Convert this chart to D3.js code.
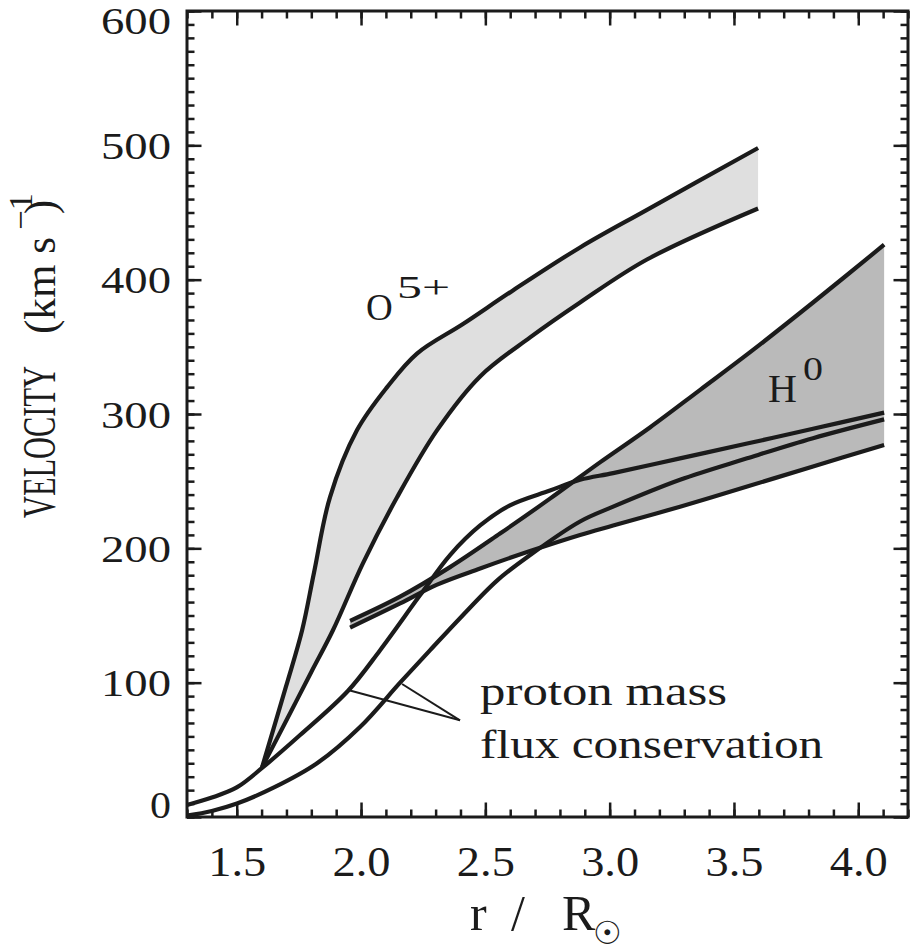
<!DOCTYPE html>
<html>
<head>
<meta charset="utf-8">
<script src="https://cdn.jsdelivr.net/npm/d3@7"></script>
<style>body{margin:0;background:#fff}svg{display:block}</style>
</head>
<body>
<svg id="c" width="910" height="952"></svg>
<script>
// ---------------- data (r / R_sun , velocity km/s) ----------------
const xTicks = [1.5, 2.0, 2.5, 3.0, 3.5, 4.0];
const xTickLabels = ["1.5", "2.0", "2.5", "3.0", "3.5", "4.0"];
const yTicks = [0, 100, 200, 300, 400, 500, 600];
const yTickLabels = ["0", "100", "200", "300", "400", "500", "600"];

const o5UpperR = [1.602, 1.698, 1.763, 1.811, 1.875, 1.984, 2.105, 2.225, 2.410, 2.611, 2.881, 3.150, 3.597];
const o5UpperV = [37, 97, 139, 182, 238, 288, 320, 345, 367, 392, 424, 452, 498];
const o5LowerR = [1.602, 1.700, 1.800, 1.887, 2.008, 2.145, 2.306, 2.479, 2.680, 2.881, 3.150, 3.597];
const o5LowerV = [37, 72, 108, 139, 189, 238, 288, 328, 357, 383, 415, 453];

const protonAR = [1.300, 1.400, 1.500, 1.602, 1.755, 1.948, 2.076, 2.237, 2.358, 2.479, 2.599, 2.760, 2.881, 3.014, 3.283, 3.553, 3.818, 4.104];
const protonAV = [9, 14.5, 22, 36.5, 61, 94, 124, 165, 195, 217, 232, 243, 251, 256, 267, 278, 289, 301];
const protonBR = [1.300, 1.400, 1.501, 1.650, 1.823, 1.996, 2.157, 2.277, 2.398, 2.547, 2.680, 2.881, 3.014, 3.283, 3.553, 3.818, 4.104];
const protonBV = [1, 4.5, 10, 22, 40, 67, 100, 124, 148, 176, 195, 220, 231, 251, 267, 282, 296];

const h0UpperR = [1.956, 2.157, 2.358, 2.559, 2.760, 2.961, 3.162, 3.364, 3.565, 3.818, 4.104];
const h0UpperV = [146, 164, 186, 211, 237, 264, 290, 318, 346, 383, 426];
const h0LowerR = [1.956, 2.157, 2.306, 2.479, 2.680, 2.881, 3.014, 3.283, 3.553, 3.818, 4.104];
const h0LowerV = [141, 159, 173, 185, 198, 210, 217, 231, 246, 261, 277];

// leader lines for the "proton mass flux conservation" note
const leaderFrom = [2.398, 72];
const leaderToR = [1.948, 2.165];
const leaderToV = [94.5, 99];

// ---------------- drawing ----------------
const serif = "'Liberation Serif','Times New Roman',serif";
const ink = "#1b1b1b";
const svg = d3.select("#c");
const x = d3.scaleLinear().domain([1.3, 4.2]).range([187, 908]);
const y = d3.scaleLinear().domain([0, 600]).range([817, 11]);

const zip = (rs, vs) => rs.map((r, i) => [r, vs[i]]);
const o5U = zip(o5UpperR, o5UpperV), o5L = zip(o5LowerR, o5LowerV);
const pA = zip(protonAR, protonAV), pB = zip(protonBR, protonBV);
const h0U = zip(h0UpperR, h0UpperV), h0L = zip(h0LowerR, h0LowerV);

const line = d3.line().x(d => x(d[0])).y(d => y(d[1])).curve(d3.curveCatmullRom.alpha(0.5));
const band = (up, lo) => line(up) + line(lo.slice().reverse()).replace(/^M/, "L") + "Z";

svg.append("path").attr("d", band(o5U, o5L)).attr("fill", "#dfdfdf");
svg.append("path").attr("d", band(h0U, h0L)).attr("fill", "#bababa");

[o5U, o5L, h0U, h0L, pA, pB].forEach(s => {
  svg.append("path").attr("d", line(s)).attr("fill", "none")
    .attr("stroke", ink).attr("stroke-width", 4.2).attr("stroke-linecap", "butt");
});

leaderToR.forEach((r, i) => {
  svg.append("line")
    .attr("x1", x(leaderFrom[0])).attr("y1", y(leaderFrom[1]))
    .attr("x2", x(r)).attr("y2", y(leaderToV[i]))
    .attr("stroke", ink).attr("stroke-width", 2);
});

// ---------------- axes ----------------
const majorLen = 14.5, minorLen = 7.5;
const xMinor = d3.range(13, 43).map(d => d / 10);
const yMinor = d3.range(0, 610, 10);

function styleAxis(g) {
  g.select(".domain").remove();
  g.selectAll(".tick line").attr("stroke", ink).attr("stroke-width", 2.5);
}
svg.append("g").attr("transform", "translate(0,817)")
  .call(d3.axisBottom(x).tickValues(xMinor).tickSize(-minorLen).tickFormat("")).call(styleAxis);
svg.append("g").attr("transform", "translate(0,11)")
  .call(d3.axisTop(x).tickValues(xMinor).tickSize(-minorLen).tickFormat("")).call(styleAxis);
svg.append("g").attr("transform", "translate(187,0)")
  .call(d3.axisLeft(y).tickValues(yMinor).tickSize(-minorLen).tickFormat("")).call(styleAxis);
svg.append("g").attr("transform", "translate(908,0)")
  .call(d3.axisRight(y).tickValues(yMinor).tickSize(-minorLen).tickFormat("")).call(styleAxis);
svg.append("g").attr("transform", "translate(0,11)")
  .call(d3.axisTop(x).tickValues(xTicks).tickSize(-majorLen).tickFormat("")).call(styleAxis);
svg.append("g").attr("transform", "translate(908,0)")
  .call(d3.axisRight(y).tickValues(yTicks).tickSize(-majorLen).tickFormat("")).call(styleAxis);

const gx = svg.append("g").attr("transform", "translate(0,817)")
  .call(d3.axisBottom(x).tickValues(xTicks).tickSize(-majorLen).tickPadding(10)
    .tickFormat((d, i) => xTickLabels[i])).call(styleAxis);
gx.selectAll("text").attr("font-family", serif).attr("font-size", 43).attr("fill", ink)
  .attr("y", 59).attr("dy", null)
  .attr("textLength", 58).attr("lengthAdjust", "spacingAndGlyphs");

const gy = svg.append("g").attr("transform", "translate(187,0)")
  .call(d3.axisLeft(y).tickValues(yTicks).tickSize(-majorLen).tickPadding(16)
    .tickFormat((d, i) => yTickLabels[i])).call(styleAxis);
gy.selectAll("text").attr("font-family", serif).attr("font-size", 38).attr("fill", ink)
  .attr("dy", null)
  .attr("y", d => d === 600 ? 22 : (d === 0 ? 0 : 13))
  .attr("textLength", (d, i) => yTickLabels[i].length === 1 ? 21 : 70)
  .attr("lengthAdjust", "spacingAndGlyphs");

svg.append("rect").attr("x", 187).attr("y", 11).attr("width", 721).attr("height", 806)
  .attr("fill", "none").attr("stroke", ink).attr("stroke-width", 3);

// ---------------- titles ----------------
const xt = svg.append("text").attr("font-family", serif).attr("font-size", 50).attr("fill", ink).attr("y", 930);
xt.append("tspan").attr("x", 470).text("r");
xt.append("tspan").attr("x", 511).text("/");
xt.append("tspan").attr("x", 562).text("R");
xt.append("tspan").attr("x", 593).attr("dy", 14).attr("font-family", "'DejaVu Sans',sans-serif")
  .attr("font-size", 32).text("\u2609");

function rot(txt, px, py, size, len) {
  svg.append("text").attr("transform", `translate(${px},${py}) rotate(-90)`)
    .attr("font-family", serif).attr("font-size", size).attr("fill", ink)
    .attr("textLength", len).attr("lengthAdjust", "spacingAndGlyphs").text(txt);
}
rot("VELOCITY", 55, 518, 46, 152);
rot("(km s", 55, 334, 45, 97);
rot("\u22121", 32, 230, 34, 37);
rot(")", 55, 214, 45, 14);

// ---------------- annotations ----------------
function note(txt, r, v, size, len) {
  const t = svg.append("text").attr("x", x(r)).attr("y", y(v))
    .attr("font-family", serif).attr("font-size", size).attr("fill", ink).text(txt);
  if (len) t.attr("textLength", len).attr("lengthAdjust", "spacingAndGlyphs");
}
note("O", 2.02, 370, 37);
note("5+", 2.145, 386.4, 31, 53);
note("H", 3.637, 308.9, 40);
note("0", 3.778, 325.3, 34, 20);
note("proton mass", 2.479, 83.4, 40, 247);
note("flux conservation", 2.479, 43.9, 40, 343);
</script>
</body>
</html>
